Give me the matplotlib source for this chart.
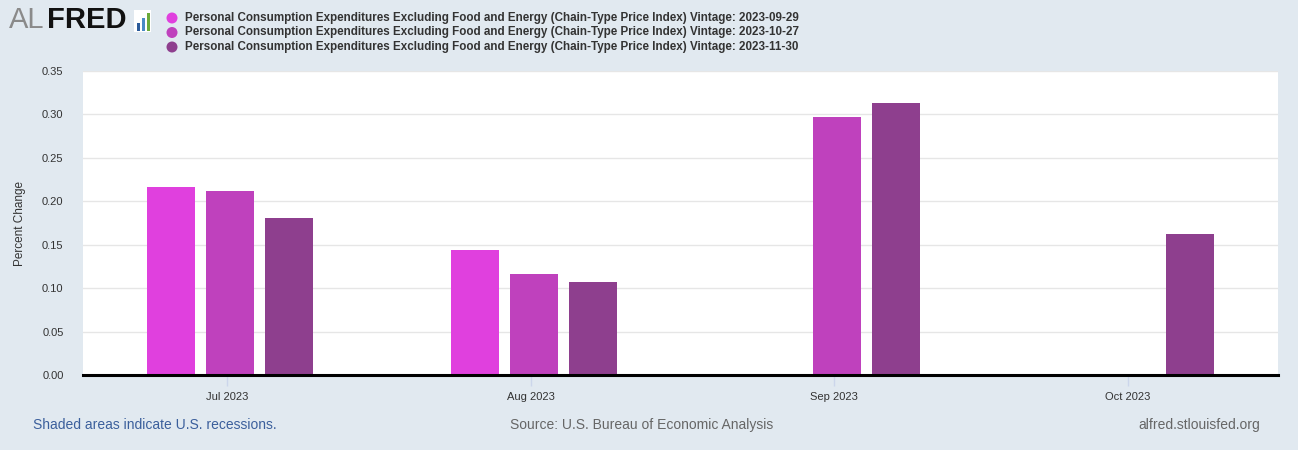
import matplotlib
matplotlib.use("Agg")
from matplotlib import pyplot as plt
from matplotlib.patches import Circle, Rectangle
import numpy as np

# month labels and their day offsets from Jul 1 2023 (time axis)
months = ["Jul 2023", "Aug 2023", "Sep 2023", "Oct 2023"]
month_days = [0, 31, 62, 92]

vintages = ["2023-09-29", "2023-10-27", "2023-11-30"]
v_0929 = [0.216, 0.144, None, None]
v_1027 = [0.212, 0.116, 0.297, None]
v_1130 = [0.181, 0.107, 0.313, 0.162]
series = [v_0929, v_1027, v_1130]
colors_ = ["#e040de", "#bf41bd", "#8e3f8e"]

title = "Personal Consumption Expenditures Excluding Food and Energy (Chain-Type Price Index) Vintage: "

plt.rcParams['font.family'] = ['Liberation Sans', 'DejaVu Sans']

W, H = 1298, 450
bg = "#e1e9f0"
fig = plt.figure(figsize=(W/100, H/100), dpi=100, facecolor=bg)
ax = fig.add_axes([83/W, 75/H, 1195/W, 304/H])
ax.set_facecolor("white")

bar_w = 4.9
offsets = [-5.72, 0.31, 6.33]
for k, vals in enumerate(series):
    xs = [d + offsets[k] for d, v in zip(month_days, vals) if v is not None]
    ys = [v for v in vals if v is not None]
    ax.bar(xs, ys, width=bar_w, color=colors_[k], zorder=3)

ax.set_xlim(-14.7, 107.3)
ax.set_ylim(0, 0.35)
ax.set_yticks(np.arange(0, 0.351, 0.05))
ax.set_yticklabels(["%.2f" % t for t in np.arange(0, 0.351, 0.05)])
ax.set_xticks(month_days)
ax.set_xticklabels(months)
ax.grid(axis='y', color="#e6e6e6", linewidth=1, zorder=0)
for s in ["top", "right", "left"]:
    ax.spines[s].set_visible(False)
ax.spines["bottom"].set_color("black")
ax.spines["bottom"].set_linewidth(2.2)
ax.spines["bottom"].set_zorder(4)
ax.tick_params(axis='y', length=0, labelsize=8, labelcolor="#333333", pad=14)
ax.tick_params(axis='x', length=8, width=1, color="#ccd6eb", labelsize=8,
               labelcolor="#333333", pad=4)

fig.text(20/W, 1 - 223/H, "Percent Change", fontsize=8.5, color="#333333",
         rotation=90, va='center', ha='center')

# logo
fig.text(9/W, 1 - 20/H, "AL", fontsize=21, color="#8a8a8a",
         va='center', ha='left')
fig.text(47/W, 1 - 20/H, "FRED", fontsize=21, color="#111111", fontweight='bold',
         va='center', ha='left')
fig.add_artist(Rectangle((134/W, 1 - 32/H), 17/W, 22/H,
                         transform=fig.transFigure, facecolor="white", edgecolor="none"))
for bx, bh, bc in [(137, 8, "#2b5b9a"), (142, 13, "#4a8ac6"), (147, 18, "#6aaa3a")]:
    fig.add_artist(Rectangle((bx/W, 1 - 31/H), 3/W, bh/H,
                             transform=fig.transFigure, facecolor=bc, edgecolor="none"))

# legend
for k, v in enumerate(vintages):
    y = 18 + k * 14.5
    fig.add_artist(Circle((172/100, (H - y)/100), 0.055, transform=fig.dpi_scale_trans,
                          facecolor=colors_[k], edgecolor="none"))
    fig.text(185/W, 1 - y/H, title + v, fontsize=8.4, fontweight='bold',
             color="#333333", va='center', ha='left')

# footer
fig.text(33/W, 1 - 425/H, "Shaded areas indicate U.S. recessions.", fontsize=10,
         color="#3b5f9c", va='center', ha='left')
fig.text(510/W, 1 - 425/H, "Source: U.S. Bureau of Economic Analysis", fontsize=10,
         color="#666666", va='center', ha='left')
fig.text(1260/W, 1 - 425/H, "alfred.stlouisfed.org", fontsize=10,
         color="#666666", va='center', ha='right')

fig.savefig("out.png", dpi=100, facecolor=bg)
